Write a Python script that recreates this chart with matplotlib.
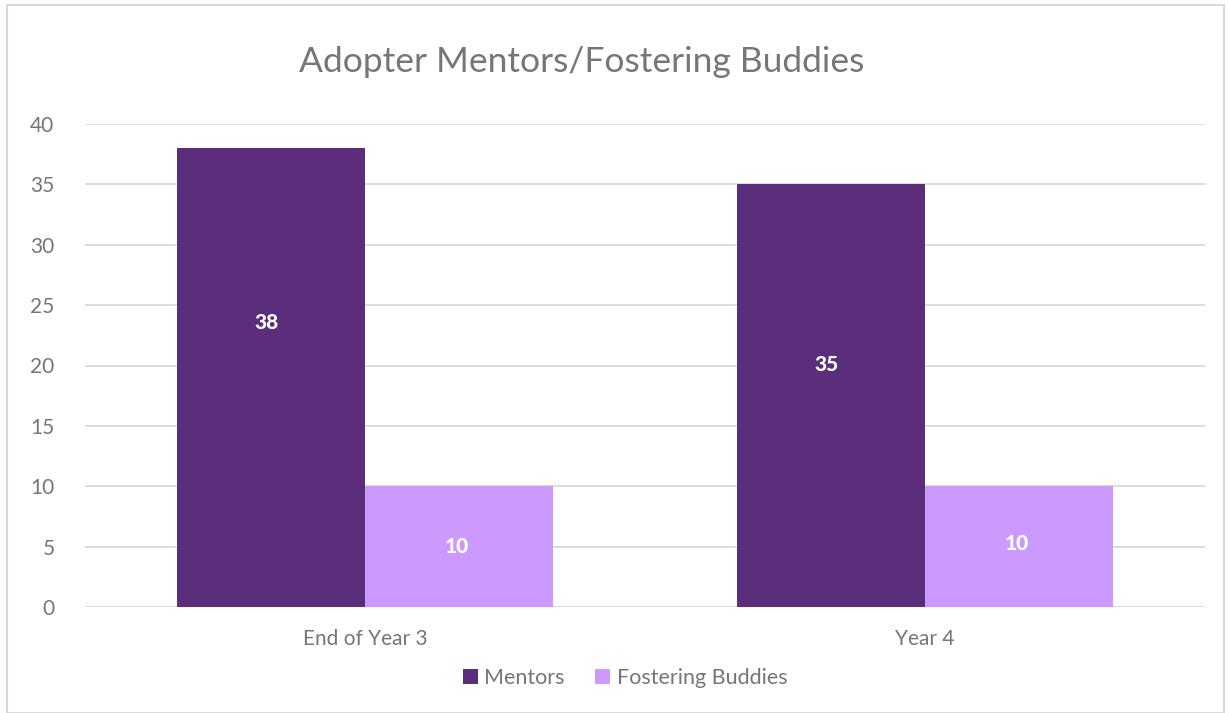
import matplotlib.pyplot as plt
from matplotlib.patches import Rectangle
import numpy as np

categories = ['End of Year 3', 'Year 4']
mentors = [38, 35]
buddies = [10, 10]
series_names = ['Mentors', 'Fostering Buddies']
# where the value labels sit inside the bars (in data units)
mentor_label_y = [23.6, 20.1]
buddy_label_y = [5.0, 5.3]

dark = '#5B2E7B'
light = '#CC99FF'
grey_text = '#767676'
grid_col = '#D9D9D9'

plt.rcParams['font.family'] = ['Lato', 'DejaVu Sans']

fig = plt.figure(figsize=(12.28, 7.13), dpi=100)
ax = fig.add_axes([85/1228, 1-607/713, 1120/1228, (607-124)/713])

x = np.arange(len(categories))
w = 0.335
ax.bar(x - w/2, mentors, w, color=dark, label=series_names[0], zorder=3)
ax.bar(x + w/2, buddies, w, color=light, label=series_names[1], zorder=3)

for i in range(len(categories)):
    ax.text(x[i] - w/2 - 0.008, mentor_label_y[i], str(mentors[i]), ha='center', va='center',
            color='white', fontsize=15, fontweight='black', zorder=4)
    ax.text(x[i] + w/2 - 0.004, buddy_label_y[i], str(buddies[i]), ha='center', va='center',
            color='white', fontsize=15, fontweight='black', zorder=4)

ax.set_xlim(-0.5, 1.5)
ax.set_ylim(0, 40)
ax.set_yticks(range(0, 41, 5))
ax.set_xticks(x)
ax.set_xticklabels(categories)
ax.yaxis.grid(True, color=grid_col, linewidth=1.3, zorder=0)
for s in ax.spines.values():
    s.set_visible(False)
ax.tick_params(axis='both', length=0, labelsize=15, labelcolor=grey_text)
ax.tick_params(axis='y', pad=22)
ax.tick_params(axis='x', pad=16)

fig.text(582/1228, 1-62/713, 'Adopter Mentors/Fostering Buddies', ha='center', va='center',
         fontsize=25.5, color=grey_text)

ax.legend(loc='center', bbox_to_anchor=(625/1228, 1-678/713), bbox_transform=fig.transFigure,
          ncol=2, frameon=False, fontsize=15.5, labelcolor=grey_text,
          handlelength=0.7, handleheight=0.7, handletextpad=0.3, columnspacing=1.4)

fig.patches.append(Rectangle((7/1228, 0), 1217/1228, 1-5/713, transform=fig.transFigure,
                             fill=False, edgecolor=grid_col, linewidth=1.5))

fig.savefig('out.png', dpi=100)
